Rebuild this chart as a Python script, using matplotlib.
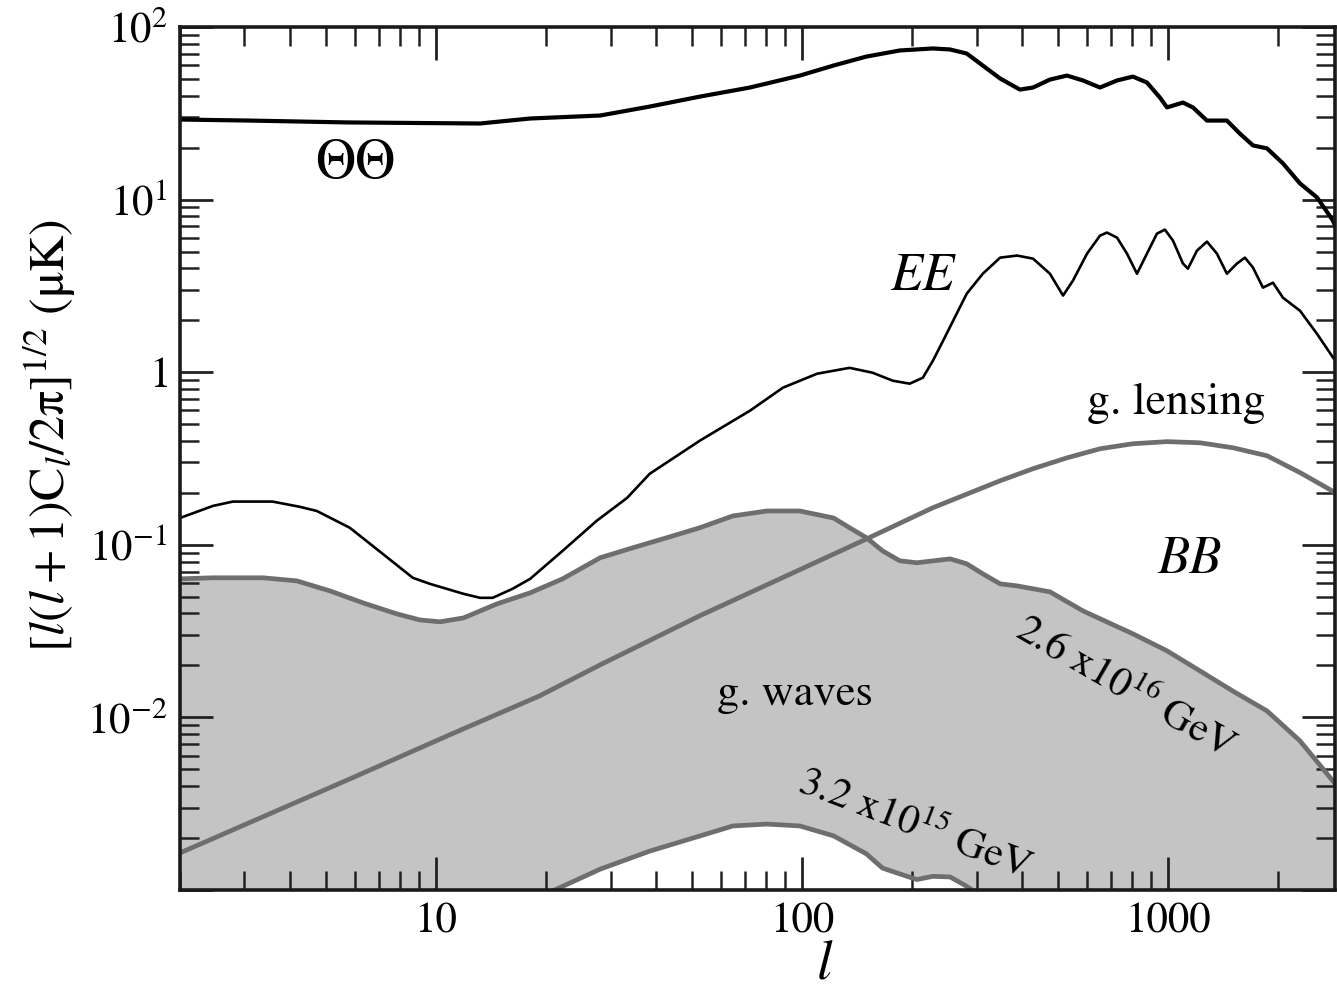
import matplotlib
matplotlib.use('Agg')
import matplotlib.pyplot as plt
from matplotlib.ticker import FixedLocator, FixedFormatter, LogLocator, NullFormatter

plt.rcParams['font.family'] = ['STIXGeneral', 'DejaVu Serif']
plt.rcParams['mathtext.fontset'] = 'stix'

# ---------------- data ----------------
tt_l = [2.0, 3.1, 5.71, 13.2, 18.1, 28.1, 38.4, 52.6, 72.1, 98.7, 122, 150, 185, 228, 254, 282,
        312, 348, 394, 428, 476, 530, 586, 652, 726, 802, 876, 951, 994, 1099, 1170, 1278, 1449,
        1573, 1707, 1865, 2062, 2295, 2553, 2824, 2896]
tt_v = [29.1, 28.7, 28.0, 27.6, 29.5, 30.7, 34.6, 39.5, 44.6, 52.3, 59.8, 67.4, 73.1, 75.1, 74.1,
        70.2, 59.8, 50.3, 43.4, 44.6, 49.6, 52.3, 49.0, 44.6, 49.0, 51.6, 47.7, 39.0, 34.2, 36.5,
        34.2, 28.7, 28.7, 24.1, 20.6, 19.8, 16.2, 12.4, 10.3, 7.56, 6.61]

ee_l = [2.0, 2.46, 2.79, 3.58, 4.25, 4.73, 5.82, 7.16, 8.65, 9.63, 11.9, 13.2, 14.3, 16.2, 18.1,
        22.2, 27.5, 33.3, 38.4, 52.6, 72.1, 88.7, 110, 135, 156, 177, 197, 214, 228, 243, 282,
        312, 348, 387, 428, 476, 517, 550, 601, 652, 681, 726, 773, 823, 876, 933, 981, 1032,
        1099, 1134, 1200, 1278, 1361, 1449, 1543, 1623, 1707, 1818, 1936, 2062, 2295, 2553, 2860]
ee_v = [0.143, 0.168, 0.178, 0.178, 0.166, 0.157, 0.1255, 0.0886, 0.0644, 0.0594, 0.0520, 0.0493,
        0.0493, 0.0556, 0.0635, 0.0923, 0.1377, 0.187, 0.258, 0.401, 0.598, 0.813, 0.980, 1.06,
        0.993, 0.893, 0.858, 0.929, 1.166, 1.52, 2.85, 3.72, 4.61, 4.74, 4.55, 3.72, 2.78, 3.39,
        4.86, 6.18, 6.44, 6.02, 4.86, 3.72, 4.86, 6.35, 6.70, 5.79, 4.26, 3.98, 5.06, 5.71, 4.86,
        3.72, 4.26, 4.61, 4.04, 3.09, 3.30, 2.70, 2.27, 1.67, 1.17]

lens_l = [2.0, 5.82, 10.9, 19.2, 28.1, 52.6, 150, 228, 348, 428, 530, 652, 802, 994, 1223, 1505,
          1865, 2295, 2896]
lens_v = [0.00164, 0.00440, 0.00792, 0.01332, 0.02015, 0.0388, 0.108, 0.164, 0.235, 0.276, 0.319,
          0.360, 0.385, 0.396, 0.390, 0.365, 0.328, 0.262, 0.198]

gw_hi_l = [2.0, 2.46, 3.37, 4.17, 5.13, 6.32, 7.82, 9.04, 10.26, 11.9, 14.7, 18.1, 22.2, 28.1,
           34.5, 42.8, 52.6, 64.8, 80.2, 98.7, 122, 135, 150, 166, 185, 206, 254, 282, 312, 348,
           387, 476, 586, 802, 994, 1223, 1505, 1865, 2295, 2896]
gw_hi_v = [0.0635, 0.0644, 0.0644, 0.0618, 0.0541, 0.0461, 0.0398, 0.0367, 0.0358, 0.0377,
           0.0455, 0.0527, 0.0635, 0.0841, 0.0961, 0.110, 0.1255, 0.147, 0.157, 0.157, 0.143,
           0.1255, 0.110, 0.0923, 0.0808, 0.0787, 0.0829, 0.0776, 0.0679, 0.0594, 0.0578, 0.0534,
           0.0414, 0.0305, 0.0243, 0.0186, 0.0142, 0.0109, 0.00731, 0.00401]

gw_lo_l = [17.0, 20.9, 28.1, 38.4, 47.3, 64.8, 80.2, 98.7, 122, 150, 166, 185, 206, 228, 254,
           280, 310]
gw_lo_v = [0.00081, 0.00099, 0.00132, 0.00168, 0.00192, 0.00235, 0.00241, 0.00235, 0.00206,
           0.00162, 0.00134, 0.00124, 0.00115, 0.00120, 0.00119, 0.00106, 0.00092]

x_ticks = [10, 100, 1000]
x_ticklabels = ['10', '100', '1000']
y_ticks = [1e-3, 1e-2, 1e-1, 1, 10, 100]
y_ticklabels = ['', '$10^{-2}$', '$10^{-1}$', '$1$', '$10^{1}$', '$10^{2}$']
x_range = (2.0, 2860)
y_range = (1e-3, 1e2)

# ---------------- figure ----------------
W, H = 1337, 1005
fig = plt.figure(figsize=(W / 100, H / 100), dpi=100)
ax = fig.add_axes([180 / W, 1 - 890 / H, (1335 - 180) / W, (890 - 27) / H])
ax.set_xscale('log')
ax.set_yscale('log')
ax.set_xlim(*x_range)
ax.set_ylim(*y_range)

fill_c = '#c4c4c4'
gray_c = '#6e6e6e'

# shaded gravity-wave band: below the upper curve, above the lower curve
ymin = y_range[0]
poly_x = gw_hi_l + [gw_hi_l[-1]] + gw_lo_l[::-1] + [gw_hi_l[0]]
poly_y = gw_hi_v + [ymin] + gw_lo_v[::-1] + [ymin]
ax.fill(poly_x, poly_y, color=fill_c, lw=0, zorder=1)

kw = dict(solid_joinstyle='round', solid_capstyle='butt')
ax.plot(gw_hi_l, gw_hi_v, color=gray_c, lw=3.4, zorder=2, **kw)
ax.plot(gw_lo_l, gw_lo_v, color=gray_c, lw=3.4, zorder=2, **kw)
ax.plot(lens_l, lens_v, color=gray_c, lw=3.4, zorder=3, **kw)
ax.plot(ee_l, ee_v, color='black', lw=1.9, zorder=4, **kw)
ax.plot(tt_l, tt_v, color='black', lw=3.0, zorder=4, **kw)

# ticks
ax.xaxis.set_major_locator(FixedLocator(x_ticks))
ax.xaxis.set_major_formatter(FixedFormatter(x_ticklabels))
ax.xaxis.set_minor_locator(LogLocator(base=10, subs=range(2, 10), numticks=20))
ax.xaxis.set_minor_formatter(NullFormatter())
ax.yaxis.set_major_locator(FixedLocator(y_ticks))
ax.yaxis.set_major_formatter(FixedFormatter(y_ticklabels))
ax.yaxis.set_minor_locator(LogLocator(base=10, subs=range(2, 10), numticks=20))
ax.yaxis.set_minor_formatter(NullFormatter())

ax.tick_params(which='both', direction='in', top=True, right=True, colors='#222222',
               labelcolor='black')
ax.tick_params(which='major', length=24, width=2.0, labelsize=31, pad=9)
ax.tick_params(which='minor', length=14, width=1.8)
for s in ax.spines.values():
    s.set_linewidth(2.6)
    s.set_color('#1a1a1a')
    s.set_zorder(5)

ax.set_xlabel('$l$', fontsize=40, va='center')
ax.xaxis.set_label_coords((825 - 180) / 1155, (890 - 965) / 863)
ax.set_ylabel(r'$[\mathit{l}(\mathit{l}+1)\mathrm{C}_{\mathit{l}}/2\mathrm{π}]^{1/2}\ (\mathrm{μK})$',
              fontsize=36, va='center')
ax.yaxis.set_label_coords((50 - 180) / 1155, (890 - 435) / 863)


def afrac(px, py):
    return ((px - 180) / 1155, (890 - py) / 863)


ax.text(*afrac(355, 165), 'ΘΘ', transform=ax.transAxes, fontsize=40, ha='center', va='center')
ax.text(*afrac(922, 277), 'EE', transform=ax.transAxes, fontsize=38, style='italic',
        ha='center', va='center')
ax.text(*afrac(1176, 403), 'g. lensing', transform=ax.transAxes, fontsize=33,
        ha='center', va='center')
ax.text(*afrac(1190, 560), 'BB', transform=ax.transAxes, fontsize=38, style='italic',
        ha='center', va='center')
ax.text(*afrac(795, 695), 'g. waves', transform=ax.transAxes, fontsize=32,
        ha='center', va='center')
ax.text(*afrac(1125, 688), '2.6 x10$^{16}$ GeV', transform=ax.transAxes, fontsize=30,
        rotation=-30, rotation_mode='anchor', ha='center', va='center')
ax.text(*afrac(915, 825), '3.2 x10$^{15}$ GeV', transform=ax.transAxes, fontsize=30,
        rotation=-21, rotation_mode='anchor', ha='center', va='center')

fig.savefig('out.png', dpi=100)
